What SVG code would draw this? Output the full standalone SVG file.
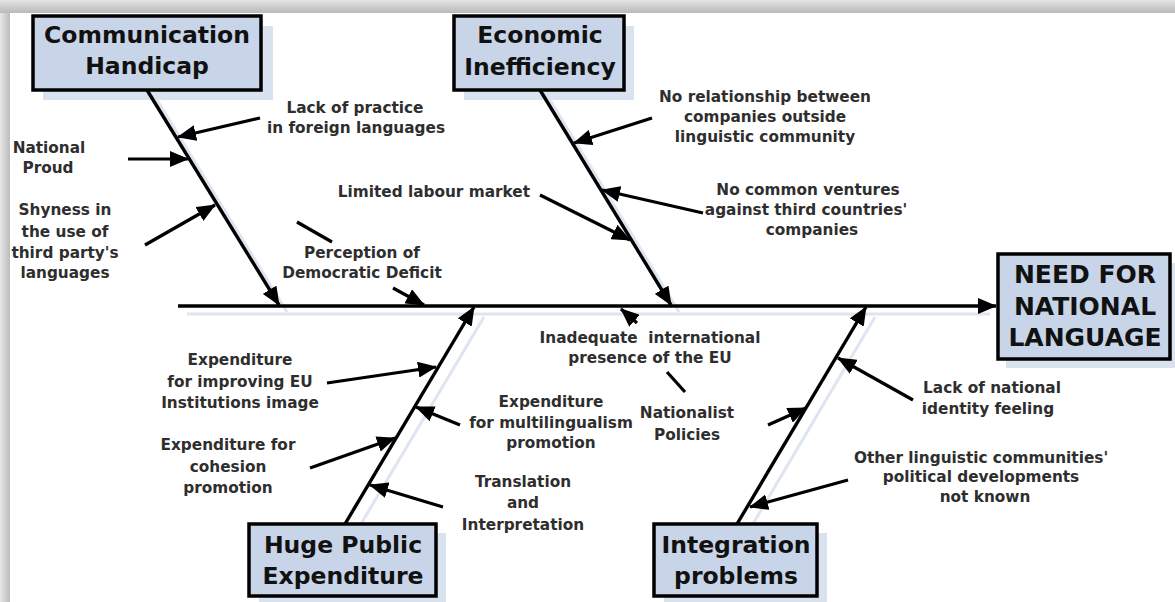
<svg xmlns="http://www.w3.org/2000/svg" width="1175" height="602" viewBox="0 0 1175 602">
<defs>
<linearGradient id="gTop" x1="0" y1="0" x2="0" y2="1"><stop offset="0" stop-color="#e4e4e4"/><stop offset="1" stop-color="#b9b9b9"/></linearGradient>
<linearGradient id="gLeft" x1="0" y1="0" x2="1" y2="0"><stop offset="0" stop-color="#e6e6e6"/><stop offset="1" stop-color="#bcbcbc"/></linearGradient>
<marker id="ah" markerUnits="userSpaceOnUse" markerWidth="20" markerHeight="16" refX="18" refY="8" orient="auto"><path d="M0,0 L19,8 L0,16 Z" fill="#000"/></marker>
<style>
.box{fill:#c8d5e8;stroke:#000;stroke-width:3.5}
.sh{fill:#d9e3ef;stroke:none}
.shl{stroke:#dde6f0;stroke-width:3;fill:none}
.bone{stroke:#000;stroke-width:3.4;fill:none}
.arr{stroke:#000;stroke-width:3.2;fill:none}
.bt{font-family:"DejaVu Sans",sans-serif;font-weight:bold;font-size:23.5px;fill:#111;text-anchor:middle}
.nt{font-family:"DejaVu Sans",sans-serif;font-weight:bold;font-size:25px;fill:#111;text-anchor:middle}
.lt{font-family:"DejaVu Sans",sans-serif;font-weight:bold;font-size:15.3px;fill:#2e2e2e;text-anchor:middle}
</style>
</defs>
<rect x="0" y="0" width="1175" height="602" fill="#fff"/>
<rect x="0" y="0" width="10" height="602" fill="url(#gLeft)"/>
<rect x="0" y="0" width="1175" height="13" fill="url(#gTop)"/>

<g id="shadows">
<line class="shl" x1="187" y1="314" x2="990" y2="314"/>
<line class="shl" x1="157" y1="100" x2="287" y2="312"/>
<line class="shl" x1="550" y1="100" x2="679" y2="312"/>
<line class="shl" x1="355" y1="534" x2="484" y2="317"/>
<line class="shl" x1="747" y1="534" x2="875" y2="317"/>
<rect class="sh" x="43" y="26" width="230" height="74"/>
<rect class="sh" x="464" y="26" width="170" height="74"/>
<rect class="sh" x="1006" y="263" width="169" height="105"/>
<rect class="sh" x="259" y="533" width="187" height="69"/>
<rect class="sh" x="664" y="533" width="163" height="69"/>
</g>

<g id="connectors">
<line class="bone" x1="178" y1="306" x2="996" y2="306" marker-end="url(#ah)"/>
<line class="bone" x1="147" y1="90" x2="279" y2="305" marker-end="url(#ah)"/>
<line class="bone" x1="540" y1="90" x2="671" y2="305" marker-end="url(#ah)"/>
<line class="bone" x1="345" y1="524" x2="474" y2="307" marker-end="url(#ah)"/>
<line class="bone" x1="737" y1="524" x2="866" y2="307" marker-end="url(#ah)"/>
<line class="arr" x1="260" y1="118" x2="178" y2="137" marker-end="url(#ah)"/>
<line class="arr" x1="128" y1="159" x2="188" y2="159" marker-end="url(#ah)"/>
<line class="arr" x1="145" y1="245" x2="215" y2="205" marker-end="url(#ah)"/>
<line class="arr" x1="297" y1="222" x2="332" y2="242"/>
<line class="arr" x1="393" y1="288" x2="424" y2="305" marker-end="url(#ah)"/>
<line class="arr" x1="652" y1="118" x2="574" y2="143" marker-end="url(#ah)"/>
<line class="arr" x1="540" y1="195" x2="630" y2="240" marker-end="url(#ah)"/>
<line class="arr" x1="703" y1="213" x2="602" y2="190" marker-end="url(#ah)"/>
<line class="arr" x1="637" y1="323" x2="621" y2="309" marker-end="url(#ah)"/>
<line class="arr" x1="667" y1="372" x2="685" y2="392"/>
<line class="arr" x1="327" y1="383" x2="436" y2="367" marker-end="url(#ah)"/>
<line class="arr" x1="310" y1="468" x2="395" y2="438" marker-end="url(#ah)"/>
<line class="arr" x1="460" y1="425" x2="416" y2="407" marker-end="url(#ah)"/>
<line class="arr" x1="443" y1="507" x2="370" y2="485" marker-end="url(#ah)"/>
<line class="arr" x1="768" y1="425" x2="806" y2="408" marker-end="url(#ah)"/>
<line class="arr" x1="913" y1="400" x2="838" y2="358" marker-end="url(#ah)"/>
<line class="arr" x1="848" y1="480" x2="750" y2="507" marker-end="url(#ah)"/>
</g>

<g id="communication-handicap">
<rect class="box" x="33" y="16" width="228" height="74"/>
<text class="bt" x="147" y="43">Communication</text>
<text class="bt" x="147" y="74">Handicap</text>
</g>
<g id="economic-inefficiency">
<rect class="box" x="454" y="16" width="170" height="74"/>
<text class="bt" x="540" y="43">Economic</text>
<text class="bt" x="540" y="75">Inefficiency</text>
</g>
<g id="need-for-national-language">
<rect class="box" x="998" y="254" width="172" height="105"/>
<text class="nt" x="1085" y="283">NEED FOR</text>
<text class="nt" x="1085" y="315">NATIONAL</text>
<text class="nt" x="1085" y="346">LANGUAGE</text>
</g>
<g id="huge-public-expenditure">
<rect class="box" x="249" y="524" width="187" height="72"/>
<text class="bt" x="343" y="553">Huge Public</text>
<text class="bt" x="343" y="584">Expenditure</text>
</g>
<g id="integration-problems">
<rect class="box" x="654" y="524" width="163" height="72"/>
<text class="bt" x="736" y="553">Integration</text>
<text class="bt" x="736" y="584">problems</text>
</g>

<g id="label-lack-practice"><text class="lt" x="355" y="113">Lack of practice</text><text class="lt" x="356" y="133">in foreign languages</text></g>
<g id="label-national-proud"><text class="lt" x="49" y="153">National</text><text class="lt" x="48" y="173">Proud</text></g>
<g id="label-shyness"><text class="lt" x="65" y="215">Shyness in</text><text class="lt" x="65" y="237">the use of</text><text class="lt" x="65" y="258">third party's</text><text class="lt" x="65" y="278">languages</text></g>
<g id="label-perception"><text class="lt" x="362" y="258">Perception of</text><text class="lt" x="362" y="278">Democratic Deficit</text></g>
<g id="label-no-relationship"><text class="lt" x="765" y="102">No relationship between</text><text class="lt" x="765" y="122">companies outside</text><text class="lt" x="765" y="142">linguistic community</text></g>
<g id="label-limited-labour"><text class="lt" x="530" y="197" style="text-anchor:end">Limited labour market</text></g>
<g id="label-no-common"><text class="lt" x="808" y="195">No common ventures</text><text class="lt" x="806" y="215">against third countries'</text><text class="lt" x="812" y="235">companies</text></g>
<g id="label-inadequate"><text class="lt" x="650" y="343" xml:space="preserve">Inadequate  international</text><text class="lt" x="650" y="363">presence of the EU</text></g>
<g id="label-nationalist"><text class="lt" x="687" y="418">Nationalist</text><text class="lt" x="687" y="440">Policies</text></g>
<g id="label-exp-image"><text class="lt" x="240" y="365">Expenditure</text><text class="lt" x="240" y="387">for improving EU</text><text class="lt" x="240" y="408">Institutions image</text></g>
<g id="label-exp-cohesion"><text class="lt" x="228" y="450">Expenditure for</text><text class="lt" x="228" y="472">cohesion</text><text class="lt" x="228" y="493">promotion</text></g>
<g id="label-exp-multi"><text class="lt" x="551" y="407">Expenditure</text><text class="lt" x="551" y="428">for multilingualism</text><text class="lt" x="551" y="448">promotion</text></g>
<g id="label-translation"><text class="lt" x="523" y="487">Translation</text><text class="lt" x="523" y="508">and</text><text class="lt" x="523" y="530">Interpretation</text></g>
<g id="label-lack-identity"><text class="lt" x="992" y="393">Lack of national</text><text class="lt" x="988" y="414">identity feeling</text></g>
<g id="label-other"><text class="lt" x="981" y="463">Other linguistic communities'</text><text class="lt" x="981" y="482">political developments</text><text class="lt" x="985" y="502">not known</text></g>
</svg>
